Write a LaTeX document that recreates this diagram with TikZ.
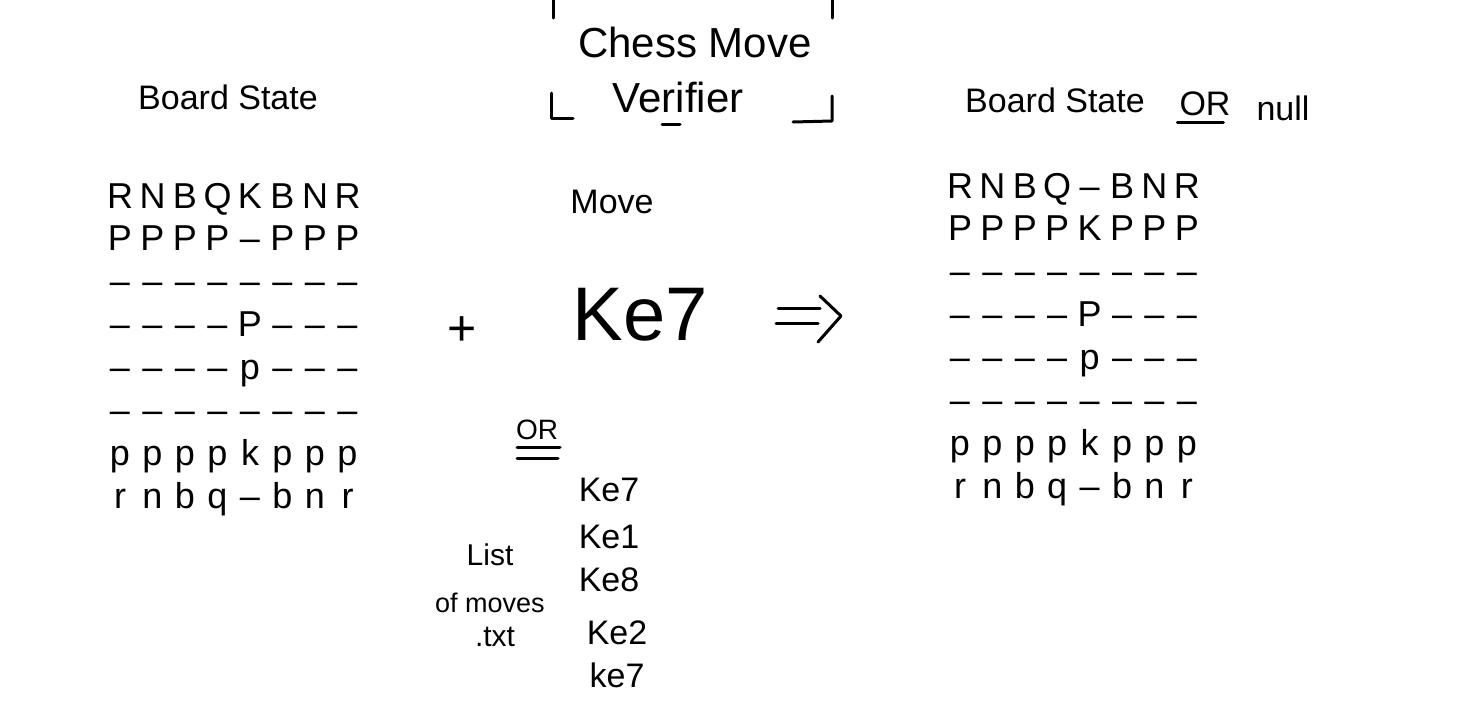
\documentclass[tikz,border=0pt]{standalone}
\usepackage{fontspec}
\setmainfont{Liberation Sans}

\tikzset{
  piece/.style={font=\fontsize{36}{36}\selectfont, inner sep=0pt, text height=26pt, text depth=0pt},
  label/.style={inner sep=0pt, font=\fontsize{#1}{#1}\selectfont},
  pen/.style={line width=3pt, line cap=round, line join=round},
}

\begin{document}
\begin{tikzpicture}[x=1pt,y=-1pt]
  \useasboundingbox (0,0) rectangle (1473,702);
  % headings
  \node[label=34] (lstate) at (228,97) {Board State};
  \node[label=42] (chess) at (695,42) {Chess Move};
  \node[label=42] (verif) at (678,97) {Verifier};
  \node[label=34] (rstate) at (1055,100) {Board State};
  \node[label=34] (ror) at (1205,104) {OR};
  \node[label=34] (null) at (1283,108) {null};
  \draw[pen] (ror.south west) ++(-2,6) -- ++(46,0);
  % verifier frame
  \draw[pen] (553,0) -- (553,18);
  \draw[pen] (832,0) -- (832,18);
  \draw[pen] (551,93) -- (551,118) -- (573,118);
  \draw[pen] (793,122) -- (832,121) -- (832,96);
  \draw[pen] (662,124) -- (680,124);
  % left board
  \foreach \row [count=\r] in {{R,N,B,Q,K,B,N,R},{P,P,P,P,\textendash,P,P,P},
      {\textendash,\textendash,\textendash,\textendash,\textendash,\textendash,\textendash,\textendash},
      {\textendash,\textendash,\textendash,\textendash,P,\textendash,\textendash,\textendash},
      {\textendash,\textendash,\textendash,\textendash,p,\textendash,\textendash,\textendash},
      {\textendash,\textendash,\textendash,\textendash,\textendash,\textendash,\textendash,\textendash},
      {p,p,p,p,k,p,p,p},{r,n,b,q,\textendash,b,n,r}}
    \foreach \p [count=\c] in \row
      \node[piece] (L\r-\c) at (87.5+32.5*\c,152.14+42.86*\r) {\p};
  % move
  \node[label=50] (plus) at (462,331) {+};
  \node[label=34] (move) at (612,202) {Move};
  \node[label=76] (ke7) at (640,315) {Ke7};
  \coordinate (imp-s) at (776,316);
  \coordinate (imp-e) at (841,316);
  \draw[pen] (imp-s) ++(2,-8) -- ++(42,0);
  \draw[pen] (imp-s) ++(0,7) -- ++(42,0);
  \draw[pen] (imp-e) ++(-21,-20) -- (imp-e) -- ++(-23,26);
  % list of moves
  \node[label=28] (or) at (537,430) {OR};
  \draw[pen] (517,447) -- (560,447);
  \draw[pen] (517,458) -- (558,458);
  \node[label=30] (list) at (490,555) {List};
  \node[label=27] (ofmoves) at (490,603) {of moves};
  \node[label=30] (txt) at (495,637) {.txt};
  \node[label=34] (m1) at (609,490) {Ke7};
  \node[label=34] (m2) at (609,537) {Ke1};
  \node[label=34] (m3) at (609,580) {Ke8};
  \node[label=34] (m4) at (617,633) {Ke2};
  \node[label=34] (m5) at (617,675) {ke7};
  % right board
  \foreach \row [count=\r] in {{R,N,B,Q,\textendash,B,N,R},{P,P,P,P,K,P,P,P},
      {\textendash,\textendash,\textendash,\textendash,\textendash,\textendash,\textendash,\textendash},
      {\textendash,\textendash,\textendash,\textendash,P,\textendash,\textendash,\textendash},
      {\textendash,\textendash,\textendash,\textendash,p,\textendash,\textendash,\textendash},
      {\textendash,\textendash,\textendash,\textendash,\textendash,\textendash,\textendash,\textendash},
      {p,p,p,p,k,p,p,p},{r,n,b,q,\textendash,b,n,r}}
    \foreach \p [count=\c] in \row
      \node[piece] (R\r-\c) at (927.6+32.4*\c,142.14+42.86*\r) {\p};
\end{tikzpicture}
\end{document}
